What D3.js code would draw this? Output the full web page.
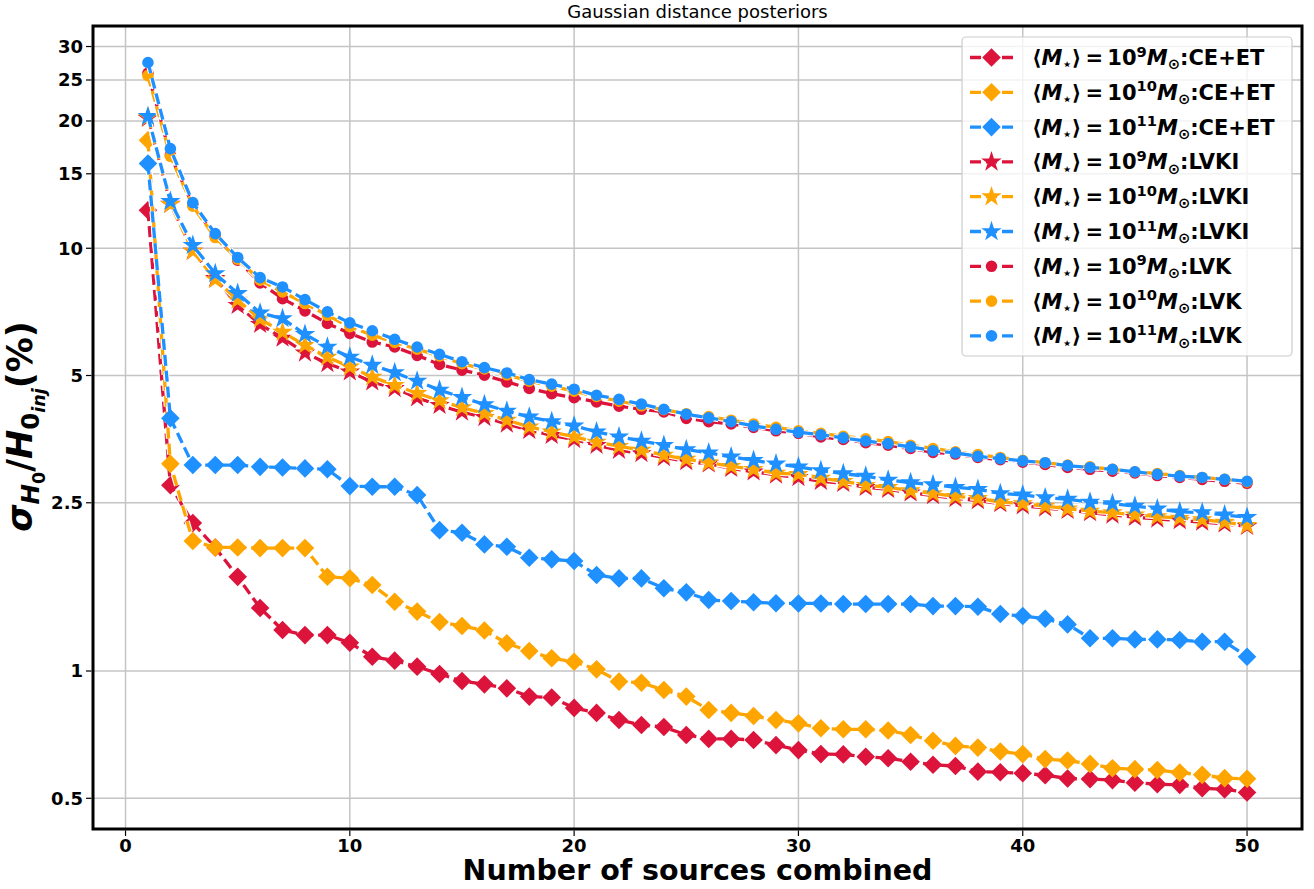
<!DOCTYPE html>
<html><head><meta charset="utf-8">
<script src="https://cdn.jsdelivr.net/npm/d3@7"></script>
<style>body{margin:0;background:#fff}svg{display:block}text{font-family:"DejaVu Sans",sans-serif}</style>
</head><body>
<svg id="chart" width="1314" height="889"></svg>
<script>
// ---------------- data ----------------
const sources = [1,2,3,4,5,6,7,8,9,10,11,12,13,14,15,16,17,18,19,20,21,22,23,24,25,26,27,28,29,30,31,32,33,34,35,36,37,38,39,40,41,42,43,44,45,46,47,48,49,50];

const ceet9  = [12.3,2.75,2.24,1.96,1.67,1.41,1.25,1.216,1.216,1.166,1.081,1.058,1.024,0.984,0.947,0.930,0.910,0.870,0.866,0.818,0.796,0.766,0.745,0.737,0.706,0.691,0.691,0.687,0.668,0.650,0.636,0.635,0.627,0.622,0.610,0.600,0.596,0.578,0.576,0.573,0.567,0.557,0.555,0.552,0.544,0.540,0.538,0.528,0.525,0.516];
const ceet10 = [18.0,3.09,2.03,1.96,1.96,1.953,1.953,1.953,1.671,1.657,1.597,1.458,1.382,1.306,1.278,1.247,1.163,1.115,1.072,1.052,1.009,0.944,0.938,0.902,0.870,0.809,0.796,0.783,0.766,0.752,0.732,0.728,0.728,0.723,0.706,0.684,0.665,0.659,0.645,0.636,0.619,0.614,0.603,0.589,0.586,0.583,0.575,0.568,0.558,0.556];
const ceet11 = [15.86,3.96,3.07,3.07,3.07,3.04,3.03,3.015,3.00,2.738,2.728,2.728,2.607,2.154,2.123,1.993,1.967,1.853,1.837,1.820,1.687,1.656,1.656,1.569,1.535,1.472,1.464,1.454,1.446,1.445,1.445,1.440,1.440,1.440,1.440,1.424,1.424,1.419,1.364,1.349,1.329,1.289,1.195,1.195,1.188,1.188,1.184,1.173,1.173,1.081];
const lvki9  = [20.3,12.71,9.84,8.49,7.33,6.61,6.13,5.655,5.34,5.10,4.83,4.66,4.43,4.25,4.10,3.98,3.84,3.71,3.61,3.53,3.42,3.33,3.27,3.20,3.13,3.09,3.015,2.96,2.91,2.87,2.81,2.78,2.72,2.69,2.64,2.60,2.56,2.53,2.49,2.46,2.43,2.40,2.37,2.34,2.31,2.29,2.27,2.25,2.23,2.20];
const lvki10 = [20.4,12.7,9.84,8.43,7.54,6.80,6.33,5.90,5.53,5.24,4.96,4.74,4.54,4.36,4.20,4.07,3.92,3.78,3.68,3.58,3.48,3.40,3.33,3.24,3.17,3.11,3.05,3.00,2.94,2.92,2.86,2.81,2.75,2.72,2.67,2.63,2.59,2.56,2.51,2.49,2.455,2.42,2.39,2.37,2.34,2.32,2.30,2.28,2.25,2.21];
const lvki11 = [20.5,12.91,10.16,8.71,7.82,7.03,6.82,6.26,5.84,5.53,5.29,5.08,4.85,4.62,4.44,4.27,4.12,3.99,3.89,3.80,3.68,3.58,3.50,3.42,3.34,3.28,3.21,3.15,3.09,3.04,2.98,2.93,2.89,2.83,2.79,2.76,2.72,2.69,2.63,2.61,2.57,2.55,2.51,2.49,2.455,2.42,2.38,2.37,2.34,2.31];
const lvk9   = [25.97,16.6,12.64,10.68,9.37,8.28,7.60,7.11,6.64,6.29,6.00,5.84,5.58,5.31,5.15,5.01,4.83,4.66,4.53,4.43,4.33,4.23,4.16,4.10,3.96,3.89,3.84,3.77,3.70,3.65,3.58,3.53,3.47,3.42,3.36,3.29,3.26,3.20,3.16,3.12,3.08,3.03,3.00,2.97,2.94,2.90,2.87,2.84,2.81,2.78];
const lvk10  = [25.6,16.5,12.57,10.6,9.42,8.40,7.88,7.40,6.94,6.52,6.23,5.99,5.77,5.56,5.33,5.18,5.02,4.85,4.72,4.59,4.46,4.35,4.24,4.15,4.06,4.00,3.92,3.84,3.77,3.70,3.65,3.59,3.54,3.49,3.42,3.36,3.30,3.25,3.20,3.15,3.11,3.07,3.04,3.00,2.96,2.93,2.90,2.87,2.84,2.80];
const lvk11  = [27.5,17.2,12.82,10.83,9.51,8.52,8.10,7.56,7.07,6.66,6.38,6.09,5.84,5.61,5.39,5.22,5.07,4.89,4.77,4.64,4.49,4.39,4.28,4.16,4.05,3.97,3.89,3.80,3.73,3.67,3.62,3.56,3.50,3.45,3.39,3.32,3.28,3.22,3.18,3.14,3.11,3.06,3.03,3.00,2.96,2.92,2.89,2.87,2.84,2.81];

const massExp   = ["9","10","11","9","10","11","9","10","11"];
const detectors = ["CE+ET","CE+ET","CE+ET","LVKI","LVKI","LVKI","LVK","LVK","LVK"];
const markers   = ["diamond","diamond","diamond","star","star","star","circle","circle","circle"];
const colors    = ["#DC143C","#FFA500","#1E90FF","#DC143C","#FFA500","#1E90FF","#DC143C","#FFA500","#1E90FF"];
const seriesValues = [ceet9,ceet10,ceet11,lvki9,lvki10,lvki11,lvk9,lvk10,lvk11];

const xTicks = [0,10,20,30,40,50];
const yTicks = [0.5,1,2.5,5,10,15,20,25,30];
const yTickLabels = ["0.5","1","2.5","5","10","15","20","25","30"];
const titleText = "Gaussian distance posteriors";
const xLabelText = "Number of sources combined";

// ---------------- layout ----------------
const L = 93, R = 1302, T = 26, B = 829;
const svg = d3.select("#chart");

const xmin = d3.min(sources), xmax = d3.max(sources);
const xpad = (xmax - xmin) * 0.05;
const x = d3.scaleLinear().domain([xmin - xpad, xmax + xpad]).range([L, R]);

const allV = seriesValues.flat();
const lmin = Math.log10(d3.min(allV)), lmax = Math.log10(d3.max(allV));
const lpad = (lmax - lmin) * 0.05;
const y = d3.scaleLog().domain([Math.pow(10, lmin - lpad), Math.pow(10, lmax + lpad)]).range([B, T]);

// grid
const grid = svg.append("g");
xTicks.forEach(t => grid.append("line").attr("x1", x(t)).attr("x2", x(t)).attr("y1", T).attr("y2", B)
  .attr("stroke", "#c4c4c4").attr("stroke-width", 1.5));
yTicks.forEach(t => grid.append("line").attr("y1", y(t)).attr("y2", y(t)).attr("x1", L).attr("x2", R)
  .attr("stroke", "#c4c4c4").attr("stroke-width", 1.5));

// marker paths
function markerPath(type) {
  if (type === "diamond") { const r = 9.3; return `M0,${-r}L${r},0L0,${r}L${-r},0Z`; }
  if (type === "star") {
    const Ro = 10.8, Ri = Ro * 0.382; let p = "";
    for (let k = 0; k < 10; k++) {
      const a = -Math.PI / 2 + k * Math.PI / 5, rr = k % 2 ? Ri : Ro;
      p += (k ? "L" : "M") + (rr * Math.cos(a)).toFixed(2) + "," + (rr * Math.sin(a)).toFixed(2);
    }
    return p + "Z";
  }
  const r = 5.8; return `M${r},0A${r},${r} 0 1,1 ${-r},0A${r},${r} 0 1,1 ${r},0Z`;
}

svg.append("clipPath").attr("id", "pc").append("rect").attr("x", L).attr("y", T).attr("width", R - L).attr("height", B - T);
const plot = svg.append("g").attr("clip-path", "url(#pc)");
const line = d3.line().x((d, i) => x(sources[i])).y(d => y(d));

seriesValues.forEach((vals, s) => {
  const g = plot.append("g");
  g.append("path").attr("d", line(vals)).attr("fill", "none").attr("stroke", "#fff")
    .attr("stroke-width", 5.5).attr("stroke-dasharray", "11,5");
  g.append("path").attr("d", line(vals)).attr("fill", "none").attr("stroke", colors[s])
    .attr("stroke-width", 3.3).attr("stroke-dasharray", "11,5");
  g.selectAll("path.m").data(vals).join("path").attr("class", "m")
    .attr("d", markerPath(markers[s]))
    .attr("transform", (d, i) => `translate(${x(sources[i])},${y(d)})`)
    .attr("fill", colors[s]);
});

// spines
svg.append("rect").attr("x", L).attr("y", T).attr("width", R - L).attr("height", B - T)
  .attr("fill", "none").attr("stroke", "#000").attr("stroke-width", 3);

// ticks
const ax = svg.append("g");
xTicks.forEach(t => {
  ax.append("line").attr("x1", x(t)).attr("x2", x(t)).attr("y1", B + 1.5).attr("y2", B + 7).attr("stroke", "#000").attr("stroke-width", 1.2);
  ax.append("text").attr("x", x(t)).attr("y", B + 23).attr("text-anchor", "middle")
    .attr("font-size", 18).attr("font-weight", "bold").text(t);
});
yTicks.forEach((t, i) => {
  ax.append("line").attr("y1", y(t)).attr("y2", y(t)).attr("x1", L - 1.5).attr("x2", L - 7).attr("stroke", "#000").attr("stroke-width", 1.2);
  ax.append("text").attr("x", L - 10).attr("y", y(t)).attr("dy", "0.36em").attr("text-anchor", "end")
    .attr("font-size", 18).attr("font-weight", "bold").text(yTickLabels[i]);
});

// rich text helper
function rich(textSel, parts, size) {
  let cur = 0;
  parts.forEach(p => {
    const lvl = p.l || 0;
    let fs = size, off = 0;
    if (lvl === 1) { fs = size * 0.7; off = -0.40 * size; }
    if (lvl === -1) { fs = size * 0.7; off = 0.20 * size; }
    if (lvl === -2) { fs = size * 0.5; off = 0.36 * size; }
    const ts = textSel.append("tspan").text(p.t).attr("font-size", fs).attr("dy", off - cur);
    if (p.i) ts.attr("font-style", "italic");
    cur = off;
  });
}

// title & axis labels
svg.append("text").attr("x", (L + R) / 2).attr("y", 18).attr("text-anchor", "middle")
  .attr("font-size", 18).text(titleText);
svg.append("text").attr("x", (L + R) / 2).attr("y", 880).attr("text-anchor", "middle")
  .attr("font-size", 28.5).attr("font-weight", "bold").text(xLabelText);

const yl = svg.append("text").attr("text-anchor", "middle").attr("font-weight", "bold")
  .attr("transform", `translate(32,${(T + B) / 2 - 1}) rotate(-90)`);
rich(yl, [
  { t: "σ", i: true }, { t: "H", i: true, l: -1 }, { t: "0", l: -2 },
  { t: "/" }, { t: "H", i: true }, { t: "0", l: -1 }, { t: "inj", i: true, l: -2 },
  { t: "(%)" }
], 35);

// legend
const lg = svg.append("g");
lg.append("rect").attr("x", 962).attr("y", 37).attr("width", 330).attr("height", 319).attr("rx", 4)
  .attr("fill", "#fff").attr("fill-opacity", 0.8).attr("stroke", "#cccccc").attr("stroke-width", 1.2);
seriesValues.forEach((vals, s) => {
  const cy = 57.5 + s * 34.8;
  lg.append("line").attr("x1", 970).attr("x2", 1013).attr("y1", cy).attr("y2", cy)
    .attr("stroke", colors[s]).attr("stroke-width", 3.3).attr("stroke-dasharray", "11,5");
  lg.append("path").attr("d", markerPath(markers[s])).attr("transform", `translate(991.5,${cy})`).attr("fill", colors[s]);
  const t = lg.append("text").attr("x", 1032).attr("y", cy + 7.5).attr("font-weight", "bold");
  rich(t, [
    { t: "⟨" }, { t: "M", i: true }, { t: "⋆", l: -1 }, { t: "⟩\u2009=\u200910" }, { t: massExp[s], l: 1 },
    { t: "M", i: true }, { t: "⊙", l: -1 }, { t: ":" + detectors[s] }
  ], 21);
});
</script>
</body></html>
